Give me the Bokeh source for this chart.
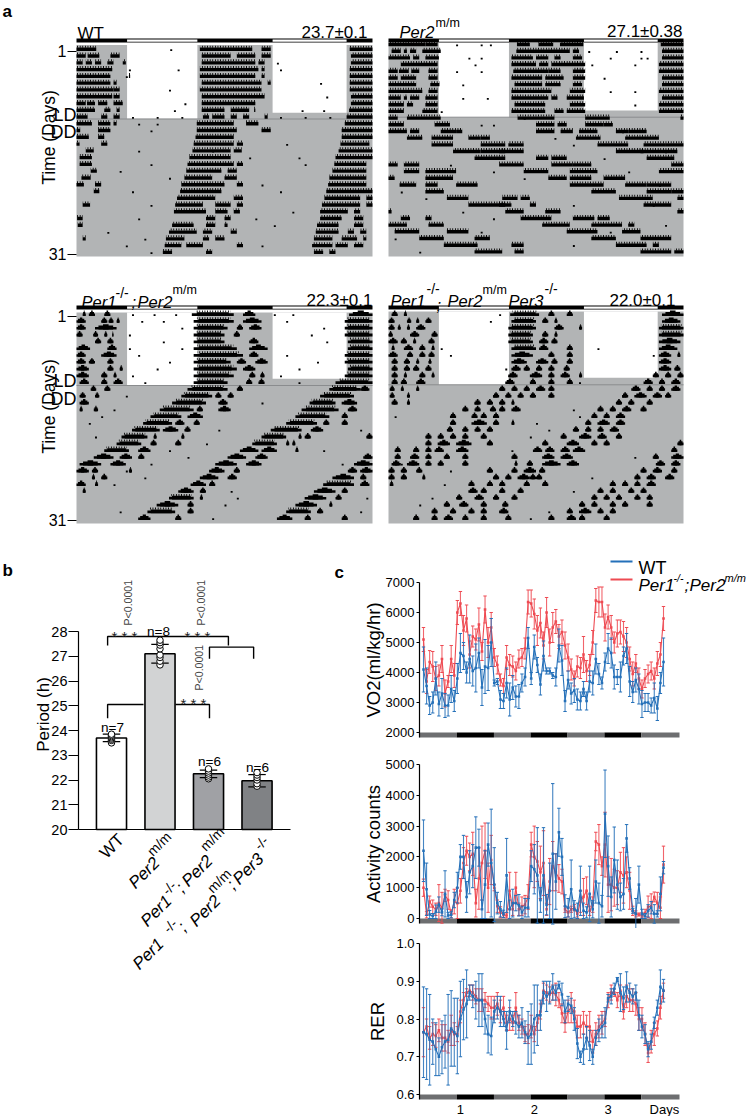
import math
from bokeh.plotting import figure
from bokeh.layouts import column, row
from bokeh.models import Label, FixedTicker, BoxAnnotation, Range1d, LinearAxis
from bokeh.embed import file_html
from bokeh.resources import INLINE

FONT = "Liberation Sans"

LIGHT_ON = [(8.2, 19.6), (31.8, 43.8)]
DARK = [(0, 8.2), (19.6, 31.8), (43.8, 48)]

WT_BOUTS = [
 [(0,3.2),(20,28.5),(30,31.5),(44.3,48)],
 [(0,1.5),(1.8,3.7),(5.5,7),(20.3,25),(26,29),(30,31.5),(44.5,48)],
 [(0,1),(1.5,2.5),(3,4),(5,6),(7.5,8),(20.3,29),(29.5,30.5),(44.5,48)],
 [(0,5.8),(20,29.5),(30,30.5),(44.3,48)],
 [(0,5.5),(8.5,8.7),(20,29),(30,30.5),(44.3,48)],
 [(0,5.5),(6,6.5),(20.3,30),(31,31.5),(44.3,48)],
 [(0,6),(6,7),(20,30),(44.3,48)],
 [(0,5.8),(6,7),(20.3,30.5),(44.5,48)],
 [(0,1.5),(1.7,3),(3.5,5),(6,7.5),(20.3,29),(44.5,48)],
 [(0,3),(4.5,5.5),(6.5,7),(20.3,24),(25,28),(28.8,29),(44.2,48)],
 [(0,1.8),(4,5),(6,7),(20.5,21.5),(22,24),(25,26),(27,28),(30.5,31),(43.8,48)],
 [(0,2.5),(3.5,5.5),(6,6.5),(19.5,25.5),(27.5,29.5),(43.5,48)],
 [(0,0.6),(3.5,5.5),(19.5,26),(30,31.5),(43,48)],
 [(0,2),(3.5,4.5),(19.3,25.5),(43,48)],
 [(0,0.5),(4,5),(19,25.5),(26,27),(42.8,47.5)],
 [(1.5,2.8),(18.8,25),(25.5,26.8),(42.5,48)],
 [(0.5,2.5),(18.3,25),(42,48)],
 [(0.5,2.5),(18,25.5),(26,27),(41.8,47)],
 [(2.3,3.3),(17.8,23.5),(24.5,26),(41.5,47)],
 [(0.8,2.3),(17.5,22),(24,26),(41,47)],
 [(0,1.2),(3,4),(17,24),(26,27),(40.8,47)],
 [(2.8,3.7),(16.8,23.5),(40.5,48)],
 [(16.3,22.5),(25.5,27),(40.2,46),(47,48)],
 [(1,2.2),(16,20.5),(22.5,25),(26,27),(39.8,46),(47,48)],
 [(15.8,21),(22.5,24.5),(25.5,26.5),(39.5,44),(45,46)],
 [(0.1,1),(21,22.5),(24,25),(39.5,43),(45,46.5)],
 [(0.2,1),(15.5,19),(21,22.5),(24,24.5),(39,42.5),(45,46.5)],
 [(15,19.5),(20.5,22),(25,26),(38.8,42.5),(44,45),(46,47)],
 [(1,1.5),(14.5,17.5),(20.5,21.5),(22.5,24),(38.5,41.5),(43,45.5),(46.5,47)],
 [(14.3,17),(17.8,20.5),(26,27),(38.2,41.5),(42,44),(45,46.5)],
 [(14,15.5),(21,22),(38.5,40),(41,42)],
]
WT_DOTS = [(1,15.2),(3,32.5),(4,8.5),(4,33),(4,16.4),(5,8),(6,39.5),(7,15),(8,40.5),(9,17.5),(10,15.8),(10,40),
 (10,36.5),(11,9),(11,13),(11,17),(11,33),(11,37),(11,41),(12,10),(12,13),(13,12),(14,20),(15,34),(16,10),(16,22),
 (17,28),(17,36),(18,37),(18,12),(19,7),(20,15),(21,30),(22,9),(22,33),(23,18),(24,12),(25,35),(26,10),(26,29),
 (27,32),(28,5),(29,11),(30,8),(30,30),(31,12)]

PER2_BOUTS = [
 [(0,6),(6,8),(20.9,23),(24.4,26.8),(27.9,31.7),(44.3,48)],
 [(0.5,2),(2.5,3),(3.5,4.5),(5.5,8.5),(20.8,29.5),(30,31),(44.5,48)],
 [(0,3.5),(4,5),(6,8.2),(20,23.5),(24,26),(27,28),(30,31.5),(44.5,48)],
 [(2,8),(20,24),(24.5,26),(26.5,32),(44,48)],
 [(0,1.5),(1.7,3.3),(3.7,5),(6.5,8),(20.3,26),(26,28),(30,32),(44,48)],
 [(0,1.5),(2,4.5),(6.5,8),(20,25),(25.5,28.5),(30,32),(44.5,48)],
 [(0,4.5),(6.8,8.3),(20.5,25),(25.5,28),(30,31.5),(44.5,48)],
 [(0,5.5),(6.5,8),(20,26.5),(29.5,32),(44,48)],
 [(0,2),(2.5,3),(3.5,5),(6,8),(20,26),(26.5,27.5),(29,31.8),(44.5,48)],
 [(0,2.5),(3,4),(6,8),(20.5,25.5),(29.5,32),(44,48)],
 [(0,2.5),(5.5,8),(20,25.5),(27,28.5),(29,32),(44,48)],
 [(0,1.5),(3,8.5),(21,24),(24,27),(32,36),(47.5,48)],
 [(0,2.5),(7.5,10),(24,27),(27.5,29),(32,35),(35,36.5)],
 [(0,3),(3.5,5),(8.5,11),(11,12),(24,27),(28,30),(31,34),(37,39),(39,42)],
 [(3,5.5),(7,10.5),(13,15),(15,16.5),(30.5,34.5),(38.5,44)],
 [(7,10.5),(15,19),(19.5,22),(34,39),(41.5,45),(45,48)],
 [(10.5,15),(15,19),(18,22),(37,41.5),(41,47)],
 [(14,19),(24,26),(26.5,29),(42,46.5)],
 [(0,1.5),(2.5,5),(18,22),(26.5,30),(30,33),(46,48)],
 [(2.5,5),(6,11),(22,26),(29.5,34),(44,48)],
 [(0,1),(6,10.5),(26,29),(29.5,33),(35,38.5)],
 [(1.8,4.5),(6,8),(11,14.5),(29.5,35),(38.5,42),(42,46)],
 [(6,9),(33,37),(42,46),(46,48)],
 [(9.5,13),(18.5,21),(21.5,23),(37.5,43),(47,48)],
 [(13,19),(18,20),(23,24),(41.5,46)],
 [(0,0.5),(19,22),(25.5,28),(47,48)],
 [(2,3.5),(6,7),(21.5,26.5),(30,33.5),(34,36)],
 [(0,3),(6.5,9),(25,29.5),(33,38),(39,40)],
 [(1,5),(9.5,13),(29,34),(38,41)],
 [(5,9),(14,16.5),(33,37),(41,46)],
 [(9,14.5),(20,22),(37,42),(43,44)],
 [(14,18.5),(20.5,22),(41,46),(46.5,48)],
]
PER2_DOTS = [(1,11),(1,15),(1,16.5),(2,32.5),(2,37),(2,41),(3,13),(3,15),(3,36),(3,41),(3,42),(4,33),(4,14),
 (4,40),(5,11),(5,15),(6,35),(7,12),(8,40),(8,36),(9,12),(9,16),(10,40),(11,8.5),(12,22),(13,15),(13,17),(14,38),
 (15,27),(16,30),(17,45),(18,35),(19,10),(20,17),(20,39),(21,22),(22,44),(23,2),(24,6),(25,30),(25,43),(26,12),
 (27,17),(28,45),(29,15),(29,36),(30,1),(31,30),(32,5)]

PER13_BOUTS = [
 [(1,1.5),(2,3),(4.5,5.5),(18.7,25.5),(27,29),(44.2,48)],
 [(0,1.5),(4,5),(5.2,6),(6.5,7),(19,25.5),(27,30),(43.5,48)],
 [(0,1.5),(3,6.5),(19,24.5),(26,27),(28,30),(43.5,48)],
 [(0,1),(2.7,3.5),(4.5,5),(5.8,6),(19,24),(25.5,26.5),(43.5,48)],
 [(3,4),(5,6),(19,24),(28,29.5),(44,48)],
 [(0,2.2),(5,6.5),(19,26),(28,31),(44,48)],
 [(0,1.5),(4,6.5),(19,27),(28,29.5),(43.5,48)],
 [(0,1.5),(2,3),(5,6),(19,25),(26,27.5),(29,31),(43.5,48)],
 [(0,2),(5,6),(7,7.5),(19,26),(27,29),(44,48)],
 [(0,2),(4,5),(6,6.5),(19,25.5),(28,29),(29.8,30.5),(43.5,48)],
 [(0.5,2),(4,5),(6,7.5),(19,24.5),(27.5,28.5),(29.5,30.5),(42,48)],
 [(2.3,3.2),(4.5,5.5),(18,24.5),(26,27),(41,46),(46,47.5)],
 [(0.5,1.5),(3,3.7),(17,22),(22.5,23.5),(24.5,25.5),(39.5,45)],
 [(0.5,2),(15.5,21),(23,24.5),(37.8,42),(43,45.5)],
 [(0.5,1),(2.8,3.5),(13.5,19),(19.5,20.5),(23,25),(36.5,42.5),(44,45.5)],
 [(12,17),(18,20.5),(35.5,41),(43,44)],
 [(10.8,15.5),(16,17.5),(19,20),(34,39),(40,41),(43,44)],
 [(9,13.5),(14,16.5),(17.5,18.5),(31.5,36.5),(38,40)],
 [(7.3,11.5),(12.5,13),(17,17.5),(30,34),(36,36.5),(37,38),(47,48)],
 [(6.5,10.5),(12,13),(16,17),(28.5,32.5),(34,34.5),(35,35.5)],
 [(4.5,8.5),(10,12),(26.5,29.5),(30,32.5),(35.5,36)],
 [(2.8,6),(7,9),(10,11),(24.5,27.5),(29,31),(46.5,48)],
 [(0.5,4),(5.5,8),(22.5,26),(27.5,30),(45,48)],
 [(0,2),(2.5,3.5),(8.5,9),(21.5,24),(25.5,26.5),(44,45.5),(46,48)],
 [(2.5,3),(4,5),(20,23),(24.5,26),(41.5,45),(46,47)],
 [(0,1.5),(3,3.5),(18.5,21),(21.5,22.5),(40,45),(46,47.5)],
 [(1,1.5),(16.5,19),(20,21),(38.5,42),(43,44)],
 [(15,19),(20,20.5),(37,40.5),(42,43)],
 [(13,16.5),(18,19),(35.5,39),(41,41.5)],
 [(11.5,16),(18,19),(34,38),(39,40)],
 [(10,12),(16,17),(32.5,35),(37,38),(43,44)],
]
PER13_DOTS = [(1,9),(1,12.5),(1,16),(1,32),(1,35),(2,10.5),(2,14),(2,34),(3,17),(3,40),(4,8.5),(4,38),(5,14),(5,40.5),
 (6,8.5),(6,17),(7,10),(7,34),(8,15),(8,39),(9,13),(9,36),(10,9),(10,33),(11,11),(11,36),(12,20),(13,8),(14,30),
 (15,6),(16,4),(17,2),(18,23),(18,46),(19,3),(20,21),(21,15),(21,40),(22,18),(23,12),(23,43),(24,8),(25,11),(26,6),
 (27,25),(28,26),(28,47),(29,24),(30,7),(30,46),(31,22)]

PER123_BOUTS = [
 [(0.5,1.5),(2.5,3),(19.8,24.5),(26,27),(29,30),(44.5,48)],
 [(0,1),(3,3.7),(4.5,5),(6,7),(20,24),(25,26),(27,27.5),(44.5,47.5)],
 [(0,1),(1.5,2),(3,3.5),(4.5,6),(19.5,24),(27,28.5),(31,31.5),(44,48)],
 [(0,0.7),(3.5,5),(7,8),(19.5,23.5),(25,26),(27,27.5),(44,48)],
 [(0,1.5),(2,3),(4,4.5),(6.5,7.5),(19.5,23.5),(24.5,26),(26.5,27.5),(44,47.5)],
 [(0.5,1),(2.5,4),(5,6),(7,7.5),(20,24),(24.5,26),(29,30),(44,47)],
 [(0,1.5),(3,4),(5,6),(6.5,7.5),(20,23.5),(26,27),(29,30),(44,46),(47,47.5)],
 [(0.5,1.5),(2.5,3.5),(4.5,5),(6.5,7),(20,22.5),(24,26),(26.5,27.5),(29,30),(44,46)],
 [(0.5,1.5),(2.5,3.5),(4,5),(6,7),(20,21.5),(22,23),(24,25),(26,27),(28.5,29.5),(44,46),(46.5,47.5)],
 [(0.5,1.5),(2.5,3),(5,6),(7,7.5),(19.5,21),(23,25),(26,27),(28,29.5),(31,31.5),(43,44),(45,46),(47,48)],
 [(0.5,1.5),(2,3),(4.5,6),(19,20.5),(23,24),(26,27),(29,30),(41.5,43),(44,45),(46,47.5)],
 [(0.2,1),(2,2.5),(4.5,5),(18,19),(20,21),(22,23),(24,25.5),(26,27),(39.5,41),(42,43),(44,45),(46,47.5)],
 [(0.2,1),(3,3.5),(17,18),(19,20),(21,22),(23,24),(26,27),(38,39),(40,42),(43,44.5),(45,46)],
 [(0.5,1.5),(3,3.5),(14,15),(16,17),(18,19),(20,20.5),(37,38),(39,40),(42,43)],
 [(12,13),(14,15),(16.5,17.5),(18,19),(20,21.5),(34,35),(36,37),(38,39.5),(41,42)],
 [(10,11),(13.5,14.5),(15,16),(17,18),(33,34),(35,36),(37,38.5)],
 [(10,11),(13.5,16),(17,18),(20,20.5),(32,33),(34,36),(37,38.5)],
 [(9.5,10.5),(12,13),(14,15),(16,17),(30,31),(32,33),(34,35),(36,37.5)],
 [(6,7),(8,9),(10,11),(12,13),(15,16),(28,29),(31,33),(34,35.5),(37,38)],
 [(6,7),(8,10),(11,13.5),(16,17),(25,26),(29,31),(33,34),(35,36),(47,48)],
 [(1,2),(4,5),(6,7),(7.5,9),(11,13),(23.5,25),(25.5,27),(28,29.5),(30,32),(46,47)],
 [(1,2),(3.5,5),(6,7),(9,10),(12,13),(20,21),(25,27),(28,30),(43,44),(46,48)],
 [(0.5,2),(3,5),(6,7),(8,9),(12,13),(20.5,21),(22.5,23.5),(25,28),(29,31),(43.5,45),(46,47.5)],
 [(0,1),(2,3),(4.5,5.5),(16,17),(20,21),(22,24),(24.5,25.5),(41,42),(43,44.5),(46,47)],
 [(0,1),(2,3),(5.5,6),(17,18),(19,20),(21,23),(23,24),(24,25),(40,41),(42,43.5),(45,46.5)],
 [(0.2,0.8),(13,14),(16,17),(18,19),(22,23),(25,26),(36,37),(38,39),(40,41),(42,43.5)],
 [(13,14.5),(15,16),(18,19),(21,22),(34,35),(36,37),(39,40),(41,42)],
 [(11,12),(14,15.5),(17,18),(20,21),(33,34),(35,36),(37,38),(40,41),(42,43)],
 [(9,10),(11.5,13),(15,16),(18.5,19.5),(31,32),(33,34),(36,37),(38,39),(42,43)],
 [(7,8),(10,11),(13,14),(15,16),(18,19.5),(29,30),(31,33),(34,35),(36,37)],
 [(4,5),(7,8),(9,10.5),(12,13),(15,16),(19,20),(26,27),(29,30.5),(31,32),(35,36)],
]
PER123_DOTS = [(1,18),(2,16.5),(6,8.5),(6,34),(7,10),(7,43),(9,19),(10,19.5),(11,31),(13,17),(13,38),(14,14),(15,30),
 (16,31),(16,1),(17,24),(18,26),(19,23),(21,20),(22,40),(23,2),(24,10),(25,33),(26,9),(27,30),(28,7),(29,5),(30,26),(31,23)]

PERIOD_GROUPS = [1, 2, 3, 4]
PERIOD_MEAN = [23.7, 27.1, 22.25, 21.97]
PERIOD_ERR = [0.15, 0.38, 0.15, 0.25]
PERIOD_DOTS = [[23.5, 23.6, 23.65, 23.7, 23.75, 23.8, 23.85],
               [26.65, 26.8, 26.95, 27.05, 27.3, 27.45, 27.55, 27.65],
               [22.05, 22.12, 22.2, 22.28, 22.36, 22.45],
               [21.75, 21.85, 22.0, 22.1, 22.2, 22.3]]
PERIOD_COLORS = ["#ffffff", "#d2d3d4", "#a0a1a5", "#808285"]
PERIOD_N = ["n=7", "n=8", "n=6", "n=6"]

HOURS = list(range(79))
STRIP = [(-1.3, 10.8, "#6d6e70"), (10.8, 22.9, "#000000"), (22.9, 34.8, "#6d6e70"), (34.8, 46.8, "#000000"),
         (46.8, 58.8, "#6d6e70"), (58.8, 70.8, "#000000"), (70.8, 83.2, "#6d6e70")]

VO2_WT = [4100,3550,2900,3000,3800,2950,3300,2900,2900,3450,
 3050,3800,4650,4550,4000,4450,4050,4150,4650,3500,
 4200,4150,5000,3650,3700,3100,3050,3650,3100,3500,
 3200,3200,3650,3850,5150,3800,4850,4250,3600,4550,
 4050,4050,3900,3850,4900,4400,3050,3750,3300,3400,
 3100,3050,3450,3050,3700,3650,4450,3950,3650,4350,
 4800,4650,3850,3850,3850,4550,4800,3700,3350,3750,
 3450,2950,3000,3000,2900,3150,2800,3650,4350]
VO2_WT_ERR = [750,600,300,350,550,400,500,400,350,450,
 350,500,650,450,350,800,500,800,500,600,
 900,750,800,100,100,300,250,500,550,400,
 350,400,300,300,350,200,400,250,350,500,
 100,100,100,300,550,500,350,300,350,400,
 350,300,250,300,350,400,500,350,200,300,
 500,500,400,250,500,300,500,500,350,400,
 500,450,300,300,250,500,400,350,800]
VO2_DKO = [5100,3700,4350,4200,3800,3900,4450,3300,3700,4450,
 3900,6000,6300,5400,5800,4600,5200,5100,5600,4700,
 6100,5000,5500,4500,4250,3750,3550,4500,4250,4200,
 4050,4450,4500,4800,6350,6300,5950,5400,5650,4900,
 6000,5000,5500,5700,5200,5350,4900,4500,4100,3800,
 4200,4150,4600,4050,4250,5000,6400,6350,6350,5500,
 5850,5500,5000,5300,5350,5200,5000,4450,3950,4300,
 3800,3450,3800,3950,4050,3800,4300,4600,5800]
VO2_DKO_ERR = [400,400,380,500,400,350,450,450,200,450,
 400,400,400,500,450,450,350,350,550,300,
 450,500,500,300,300,200,250,400,350,350,
 300,300,300,350,400,450,500,500,500,450,
 500,450,500,400,400,400,450,450,350,250,
 350,350,600,350,350,400,400,500,500,450,
 400,400,350,450,400,500,500,400,400,300,
 350,300,300,300,300,350,400,400,400]

ACT_WT = [2200,950,130,80,220,450,200,800,100,120,
 600,1000,2000,2000,700,1500,1700,2300,2300,300,
 1100,2400,1800,1100,500,300,150,1400,300,500,
 500,430,200,350,350,1700,1600,1400,600,1400,
 450,900,2100,1200,2800,2000,400,350,950,300,
 250,900,250,200,800,300,1200,500,400,3400,
 1700,700,1900,1100,700,800,2600,1300,250,150,
 1100,150,80,250,350,150,150,800,1650]
ACT_WT_ERR = [1000,850,130,80,220,250,110,750,100,100,
 250,500,400,700,500,700,700,1000,600,300,
 1100,700,1750,1200,350,250,120,1200,300,450,
 250,350,200,300,300,500,800,1550,400,1550,
 330,900,2280,900,780,600,370,300,950,280,
 250,800,250,180,900,280,700,650,350,1420,
 980,650,1070,800,450,500,450,350,80,500,
 600,150,80,200,200,300,100,550,200]
ACT_DKO = [1000,120,550,380,300,500,350,750,600,150,
 550,500,900,1800,2200,2000,2100,500,1300,1800,
 2200,1000,1900,1000,400,200,120,100,900,300,
 1000,300,400,450,700,2400,2000,1850,1500,1800,
 300,1200,1700,1500,1300,1200,300,200,300,350,
 150,550,700,900,250,450,2500,2400,1700,2400,
 1100,1100,1000,1000,1500,1400,1500,900,250,150,
 130,100,180,380,400,700,500,350,1750]
ACT_DKO_ERR = [280,100,180,220,200,600,500,200,300,130,
 400,500,400,500,470,450,700,450,1000,1200,
 900,800,800,100,200,180,80,80,600,200,
 500,200,300,300,400,400,1000,650,850,1050,
 200,750,800,600,450,400,100,150,100,100,
 100,350,600,450,150,250,300,650,300,1050,
 900,850,600,550,650,900,500,600,150,100,
 50,80,120,350,400,160,350,350,600]

RER_WT = [0.765,0.76,0.745,0.74,0.72,0.70,0.725,0.74,0.745,0.775,
 0.765,0.755,0.80,0.825,0.84,0.87,0.86,0.85,0.85,0.85,
 0.80,0.76,0.755,0.82,0.83,0.82,0.80,0.77,0.82,0.80,
 0.79,0.78,0.79,0.765,0.75,0.76,0.80,0.81,0.81,0.87,
 0.86,0.87,0.885,0.87,0.89,0.865,0.82,0.84,0.835,0.80,
 0.735,0.70,0.72,0.75,0.73,0.70,0.75,0.77,0.78,0.79,
 0.855,0.86,0.88,0.905,0.87,0.855,0.885,0.87,0.86,0.87,
 0.81,0.78,0.76,0.72,0.74,0.79,0.83,0.885,0.875]
RER_WT_ERR = [0.12,0.12,0.12,0.06,0.07,0.05,0.07,0.07,0.12,0.10,
 0.09,0.10,0.10,0.08,0.09,0.02,0.03,0.05,0.07,0.07,
 0.04,0.05,0.05,0.03,0.03,0.04,0.02,0.05,0.03,0.02,
 0.03,0.03,0.04,0.03,0.07,0.08,0.09,0.08,0.04,0.03,
 0.04,0.03,0.035,0.02,0.01,0.03,0.03,0.02,0.02,0.03,
 0.04,0.015,0.04,0.03,0.04,0.02,0.02,0.03,0.03,0.04,
 0.01,0.02,0.015,0.005,0.05,0.03,0.04,0.025,0.02,0.02,
 0.04,0.03,0.025,0.02,0.02,0.015,0.02,0.045,0.03]
RER_DKO = [0.765,0.78,0.75,0.76,0.755,0.77,0.75,0.75,0.74,0.77,
 0.76,0.76,0.82,0.85,0.87,0.875,0.87,0.86,0.85,0.85,
 0.85,0.84,0.83,0.83,0.84,0.82,0.83,0.79,0.80,0.79,
 0.83,0.79,0.78,0.76,0.76,0.78,0.76,0.79,0.82,0.875,
 0.87,0.865,0.87,0.865,0.85,0.815,0.79,0.82,0.83,0.82,
 0.78,0.78,0.79,0.78,0.78,0.74,0.76,0.78,0.79,0.80,
 0.85,0.87,0.87,0.85,0.875,0.82,0.86,0.85,0.85,0.84,
 0.80,0.80,0.76,0.71,0.74,0.76,0.775,0.83,0.875]
RER_DKO_ERR = [0.065,0.02,0.03,0.03,0.03,0.03,0.035,0.035,0.03,0.04,
 0.03,0.02,0.03,0.02,0.01,0.015,0.02,0.02,0.03,0.03,
 0.02,0.02,0.03,0.03,0.03,0.03,0.03,0.02,0.03,0.02,
 0.04,0.02,0.02,0.02,0.025,0.03,0.02,0.02,0.02,0.02,
 0.02,0.02,0.02,0.03,0.02,0.025,0.025,0.03,0.04,0.03,
 0.03,0.03,0.03,0.03,0.04,0.03,0.03,0.03,0.03,0.02,
 0.02,0.02,0.01,0.02,0.015,0.02,0.03,0.03,0.03,0.03,
 0.03,0.03,0.03,0.025,0.03,0.03,0.02,0.03,0.02]


class Panel:
    """A figure covering a page box; the data ranges are stretched to the box so a logical plot area
    (frame) stays at its page pixels, and axes sit at fixed locations inside the figure."""
    def __init__(self, box, frame, xr, yr):
        self.box, self.frame, self.xr, self.yr = box, frame, xr, yr
        bx0, by0, bx1, by1 = box
        self.p = figure(width=bx1 - bx0, height=by1 - by0, output_backend="svg", toolbar_location=None,
                        x_range=Range1d(self.dx(bx0), self.dx(bx1)), y_range=Range1d(self.dy(by1), self.dy(by0)),
                        min_border_left=0, min_border_right=0, min_border_top=0, min_border_bottom=0,
                        x_axis_location=None, y_axis_location=None)
        self.p.outline_line_color = None
        self.p.grid.visible = False
        self.p.background_fill_color = None
        self.p.border_fill_color = None

    def dx(self, px):
        fx0, _, fx1, _ = self.frame
        return self.xr[0] + (px - fx0) / (fx1 - fx0) * (self.xr[1] - self.xr[0])

    def dy(self, py):
        _, fy0, _, fy1 = self.frame
        return self.yr[0] + (py - fy1) / (fy0 - fy1) * (self.yr[1] - self.yr[0])

    def hy(self, px):
        _, fy0, _, fy1 = self.frame
        return px / (fy1 - fy0) * (self.yr[1] - self.yr[0])

    def label(self, text, px, py, size, align="left", angle=0, style="normal", color="#000000"):
        self.p.add_layout(Label(x=self.dx(px), y=self.dy(py), text=text, text_font=FONT,
                                text_font_size=f"{size}px", text_align=align, text_baseline="alphabetic",
                                angle=math.radians(angle), text_font_style=style, text_color=color))

    def yaxis(self, ticks, overrides=None, tick_out=3, size="13px", standoff=2, line=True, label=None, label_off=1):
        lo, hi = sorted(self.yr)
        ax = LinearAxis(fixed_location=self.xr[0], ticker=FixedTicker(ticks=ticks), bounds=(lo, hi),
                        major_tick_out=tick_out, major_tick_in=0, minor_tick_out=0, minor_tick_in=0,
                        major_label_standoff=standoff, major_label_text_font=FONT,
                        major_label_text_font_size=size, major_label_text_color="#000000",
                        axis_line_width=1.2, major_tick_line_width=1.2)
        if overrides:
            ax.major_label_overrides = overrides
        if not line:
            ax.axis_line_color = None
        if label:
            ax.axis_label = label
            ax.axis_label_standoff = label_off
            ax.axis_label_text_font = FONT
            ax.axis_label_text_font_style = "normal"
            ax.axis_label_text_font_size = "18.5px"
            ax.axis_label_text_color = "#000000"
        self.p.add_layout(ax, "left")
        return ax


def actogram(box, frame, row1_px, pitch, bouts, dots, white_ends, axis, humps, gray_top, line_row=None):
    fy0, fy1 = frame[1], frame[3]
    ytop = 1 + (fy0 - row1_px) / pitch
    ybot = 1 + (fy1 - row1_px) / pitch
    a = Panel(box, frame, (0, 48), (ybot, ytop))
    p = a.p
    if axis:
        a.yaxis([1, 31], tick_out=9, size="16px", standoff=1, line=False)
    # gray background and lit windows
    gt = a.dy(gray_top)
    p.quad(left=[0], right=[48], top=[gt], bottom=[ybot], fill_color="#b2b4b5", line_color=None)
    for (s, e), end in zip(LIGHT_ON, white_ends):
        p.quad(left=[s], right=[e], top=[gt], bottom=[a.dy(end)], fill_color="#ffffff", line_color=None)
    if line_row:
        p.segment(x0=[0], x1=[48], y0=[a.dy(line_row)], y1=[a.dy(line_row)], line_color="#8a8c8e", line_width=1)
    # LD strip
    st0 = a.dy(fy0 + 2)
    st1 = a.dy(fy0 + 6)
    p.quad(left=[0], right=[48], top=[st0], bottom=[st1], fill_color="#000000", line_color=None)
    for s, e in LIGHT_ON:
        p.quad(left=[s], right=[e], top=[a.dy(fy0 + 3)], bottom=[a.dy(fy0 + 5.2)], fill_color="#ffffff", line_color=None)
    # activity bouts
    L, R, B, T = [], [], [], []
    HL, HR, HB, HT = [], [], [], []
    for i, rowb in enumerate(bouts):
        y = i + 1
        for s, e in rowb:
            w = e - s
            c = (s + e) / 2
            if humps and w < 4:
                L.append(s); R.append(e); B.append(y); T.append(y + a.hy(2.6))
                L.append(c - w * 0.34); R.append(c + w * 0.34); B.append(y); T.append(y + a.hy(4.0))
                L.append(c - w * 0.13); R.append(c + w * 0.13); B.append(y); T.append(y + a.hy(5.4))
            elif humps:
                L.append(s); R.append(e); B.append(y); T.append(y + a.hy(2.8))
                L.append(c - w * 0.38); R.append(c + w * 0.38); B.append(y); T.append(y + a.hy(3.8))
                HL.append(c - w * 0.42); HR.append(c + w * 0.42); HB.append(y + a.hy(3.6)); HT.append(y + a.hy(5.6))
            else:
                L.append(s); R.append(e); B.append(y); T.append(y + a.hy(3.4))
                HL.append(s); HR.append(e); HB.append(y + a.hy(3.2)); HT.append(y + a.hy(5.2))
    p.quad(left=L, right=R, bottom=B, top=T, fill_color="#000000", line_color=None)
    if HL:
        p.quad(left=HL, right=HR, bottom=HB, top=HT, fill_color=None, line_color=None,
               hatch_pattern="vertical_line", hatch_color="#000000", hatch_scale=2.6, hatch_weight=1.2)
    dx = [d[1] for d in dots]
    dy = [d[0] for d in dots]
    p.quad(left=dx, right=[x + 0.32 for x in dx], bottom=dy, top=[y + a.hy(1.8) for y in dy],
           fill_color="#000000", line_color=None)
    return a


# --- panel a ---
A1 = actogram((0, 0, 383, 272), (76, 36, 372, 256), 50.5, 6.77, WT_BOUTS, WT_DOTS, (118.3, 112.3), True, False, 44.5, 118.5)
A1.label("a", 2, 11, 17, style="bold")
A1.label("WT", 77, 33, 17)
A1.label("23.7\u00b10.1", 367, 32, 17, align="right")
A1.label("Time (Days)", 48, 137, 17.5, align="center", angle=90)
A1.label("LD", 76, 114, 18, align="right")
A1.label("DD", 76, 131, 18, align="right")

A2 = actogram((383, 0, 748, 272), (388, 36, 683, 256), 45.7, 6.69, PER2_BOUTS, PER2_DOTS, (116.7, 110), False, False, 42.5, 116.7)
A2.label("Per2", 399, 31, 16.5, style="italic")
A2.label("m/m", 435, 22, 12.5)
A2.label("27.1\u00b10.38", 682, 31, 17, align="right")

A3 = actogram((0, 272, 383, 545), (76, 303, 372, 523), 315.5, 6.8, PER13_BOUTS, PER13_DOTS, (385, 378.3), True, True, 312, 385)
A3.label("Per1", 81, 301, 16.5, style="italic")
A3.label("-/-", 115, 292, 14)
A3.label(";", 131, 301, 16.5, style="italic")
A3.label("Per2", 137, 301, 16.5, style="italic")
A3.label("m/m", 172, 289, 12.5)
A3.label("22.3\u00b10.1", 372, 300, 17, align="right")
A3.label("Time (Days)", 48, 406, 17.5, align="center", angle=90)
A3.label("LD", 76, 380, 18, align="right")
A3.label("DD", 76, 398, 18, align="right")

A4 = actogram((383, 272, 748, 545), (388, 303, 683, 523), 315.5, 6.8, PER123_BOUTS, PER123_DOTS, (384.3, 377.3), False, True, 311, 384.3)
A4.label("Per1", 390, 300, 16.5, style="italic")
A4.label("-/-", 426, 288, 14)
A4.label(";", 436, 304, 16.5, style="italic")
A4.label("Per2", 447, 300, 16.5, style="italic")
A4.label("m/m", 482, 289, 12.5)
A4.label("Per3", 508, 300, 16.5, style="italic")
A4.label("-/-", 544, 288, 14)
A4.label("22.0\u00b10.1", 675, 300, 17, align="right")

# --- panel b ---
B = Panel((0, 545, 350, 1116), (78, 631, 290, 829), (0.32, 4.69), (20, 28))
bp = B.p
B.yaxis(list(range(20, 29)), tick_out=10, standoff=1, size="14.5px")
xa = LinearAxis(fixed_location=20, ticker=FixedTicker(ticks=[]), bounds=B.xr, major_tick_out=0, minor_tick_out=0,
                major_tick_in=0, minor_tick_in=0, axis_line_width=1.2)
bp.add_layout(xa, "below")
bp.vbar(x=PERIOD_GROUPS, top=PERIOD_MEAN, bottom=20, width=0.62, fill_color=PERIOD_COLORS,
        line_color="#000000", line_width=1.6)
bl = 0.18
bxs = []
bys = []
for g, m, e in zip(PERIOD_GROUPS, PERIOD_MEAN, PERIOD_ERR):
    bxs += [[g, g], [g - bl, g + bl], [g - bl, g + bl]]
    bys += [[m - e, m + e], [m - e, m - e], [m + e, m + e]]
bp.multi_line(xs=bxs, ys=bys, line_color="#000000", line_width=1.2)
ptsx = [g for g, ds in zip(PERIOD_GROUPS, PERIOD_DOTS) for _ in ds]
ptsy = [v for ds in PERIOD_DOTS for v in ds]
BX = [0.92, 1.66, 2.32, 3.02, 3.41, 3.93]
brx = [[BX[0], BX[0], BX[4], BX[4]], [BX[3], BX[3], BX[5], BX[5]], [BX[0], BX[0], BX[1]], [BX[2], BX[3], BX[3]]]
bry = [[27.43, 27.8, 27.8, 27.43], [26.9, 27.37, 27.37, 26.9], [24.5, 25.05, 25.05], [25.05, 25.05, 24.5]]
bp.multi_line(xs=brx, ys=bry, line_color="#000000", line_width=1.4)
bp.scatter(x=ptsx, y=ptsy, size=6.5, marker="circle", fill_color="#ffffff", line_color="#000000", line_width=1)
B.label("b", 2, 570, 17, style="bold")
B.label("c", 334, 572, 17, style="bold")
B.label("Period (h)", 43, 714, 17, align="center", angle=90)
for txt, x, y in zip(PERIOD_N, (112, 158, 209, 257), (727, 631, 761, 767)):
    B.label(txt, x, y, 13.6, align="center")
for x, y in ((124, 636), (197, 636), (193, 703)):
    B.label("* * *", x, y, 15, align="center", color="#222222")
for x, y in ((127.7, 625), (200, 625), (198, 690)):
    B.label("P<0.0001", x, y, 10.6, angle=90, color="#444444")
B.label("WT", 102, 855, 17, angle=45)
B.label("Per2", 131, 885, 17, angle=45, style="italic")
B.label("m/m", 149, 853, 14, angle=45)
B.label("Per1", 143, 923, 17, angle=45, style="italic")
B.label("-/-", 164, 892, 14, angle=45)
B.label(";", 178, 889, 17, angle=45, style="italic")
B.label("Per2", 184, 883, 17, angle=45, style="italic")
B.label("m/m", 202, 848, 14, angle=45)
B.label("Per1", 135, 966, 17, angle=45, style="italic")
B.label("-/-", 165, 930, 14, angle=45)
B.label(";", 180, 928, 17, angle=45, style="italic")
B.label("Per2", 192, 923, 17, angle=45, style="italic")
B.label("m/m", 209, 890, 14, angle=45)
B.label(";", 229, 886, 17, angle=45, style="italic")
B.label("Per3", 235, 881, 17, angle=45, style="italic")
B.label("-/-", 256, 847, 14, angle=45)


# --- panel c ---
def timecourse(box, frame, yr, ticks, ylabel, labels, wt, wte, dko, dkoe, cap_x=0.55, last=False, label_off=-1):
    c = Panel(box, frame, (-1.3, 83.2), yr)
    p = c.p
    c.yaxis(ticks, overrides=labels, label=ylabel, label_off=label_off)
    if last:
        xa = LinearAxis(fixed_location=yr[0], ticker=FixedTicker(ticks=[12, 36, 60, 78.3]),
                        major_label_overrides={12: "1", 36: "2", 60: "3", 78.3: "Days"},
                        major_tick_out=0, major_tick_in=0, minor_tick_out=0, minor_tick_in=0,
                        major_label_standoff=2, major_label_text_font=FONT, major_label_text_font_size="13px",
                        major_label_text_color="#000000")
        xa.axis_line_color = None
        p.add_layout(xa, "below")
    ybot = yr[0]
    ytop = c.dy(frame[3] - 5)
    p.quad(left=[s[0] for s in STRIP], right=[s[1] for s in STRIP], bottom=ybot, top=ytop,
           fill_color=[s[2] for s in STRIP], line_color=None)
    for m, e, col, lw in ((dko, dkoe, "#ee4a52", 1.1), (wt, wte, "#2470b9", 1.1)):
        lo = [a - b for a, b in zip(m, e)]
        hi = [a + b for a, b in zip(m, e)]
        p.segment(x0=HOURS, x1=HOURS, y0=lo, y1=hi, line_color=col, line_width=1.1, line_alpha=0.85)
        xl = [h - cap_x for h in HOURS]
        xr = [h + cap_x for h in HOURS]
        p.segment(x0=xl, x1=xr, y0=lo, y1=lo, line_color=col, line_width=1)
        p.segment(x0=xl, x1=xr, y0=hi, y1=hi, line_color=col, line_width=1)
        p.line(x=HOURS, y=m, line_color=col, line_width=lw)
        p.scatter(x=HOURS, y=m, size=2.6, marker="square", fill_color=col, line_color=None)
    return c


C1 = timecourse((350, 545, 748, 752), (419, 582, 679, 737), (1833.3, 7000), list(range(2000, 7001, 1000)),
                "VO2(ml/kg/hr)", {}, VO2_WT, VO2_WT_ERR, VO2_DKO, VO2_DKO_ERR)
C2 = timecourse((350, 752, 748, 928), (419, 764, 679, 923), (-162, 5000), list(range(0, 5001, 1000)),
                "Activity counts", {}, ACT_WT, ACT_WT_ERR, ACT_DKO, ACT_DKO_ERR)
C3 = timecourse((350, 928, 748, 1116), (419, 943, 679, 1099), (0.5868, 1.0), [0.6, 0.7, 0.8, 0.9, 1.0],
                "RER", {0.6: "0.6", 0.7: "0.7", 0.8: "0.8", 0.9: "0.9", 1.0: "1.0"},
                RER_WT, RER_WT_ERR, RER_DKO, RER_DKO_ERR, last=True, label_off=5)
for col, py in (("#2470b9", 561), ("#ee4a52", 579)):
    C1.p.add_layout(BoxAnnotation(left=C1.dx(610), right=C1.dx(632), top=C1.dy(py - 1), bottom=C1.dy(py + 1),
                                  fill_color=col, fill_alpha=1, line_color=None))
C1.label("WT", 638, 567, 18)
C1.label("Per1", 638, 585, 17, style="italic")
C1.label("-/-", 673, 577, 10.5, style="italic")
C1.label(";", 684, 585, 17, style="italic")
C1.label("Per2", 689, 585, 17, style="italic")
C1.label("m/m", 724, 577, 11, style="italic")

root = column(row(A1.p, A2.p, spacing=0), row(A3.p, A4.p, spacing=0),
              row(B.p, column(C1.p, C2.p, C3.p, spacing=0), spacing=0), spacing=0)
open("out.html", "w").write(file_html(root, INLINE))
